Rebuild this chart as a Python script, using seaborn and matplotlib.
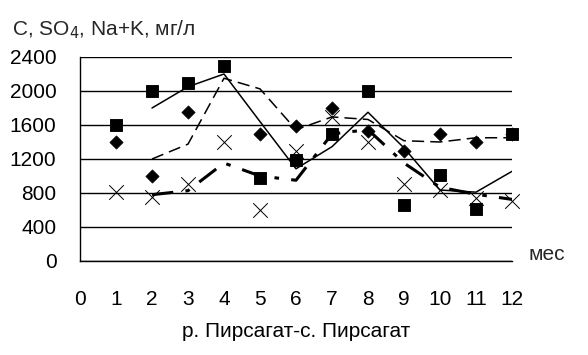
import seaborn as sns
import matplotlib.pyplot as plt
import pandas as pd

months = [1, 2, 3, 4, 5, 6, 7, 8, 9, 10, 11, 12]
# squares, diamonds, crosses (mg/l); diamond at month 4 lies above the axis
c_vals = [1600, 2000, 2100, 2300, 980, 1190, 1500, 2000, 660, 1010, 610, 1500]
so4_vals = [1400, 1000, 1750, 2550, 1500, 1590, 1800, 1530, 1300, 1500, 1400, 1500]
nak_vals = [810, 750, 905, 1400, 600, 1300, 1690, 1400, 905, 830, 740, 710]

df = pd.DataFrame({"mes": months, "c": c_vals, "so4": so4_vals, "nak": nak_vals})
# 2-period moving average trend lines
for col in ["c", "so4", "nak"]:
    df[col + "_ma"] = df[col].rolling(2).mean()

sns.set_theme(style="white")
plt.rcParams['font.family'] = ['Liberation Sans', 'DejaVu Sans']

fig = plt.figure(figsize=(5.88, 3.55), dpi=100)
ax = fig.add_axes([80 / 588, 1 - 261 / 355, 432 / 588, 204 / 355])

sns.lineplot(data=df, x="mes", y="c_ma", color="black", lw=1.1, ax=ax)
sns.lineplot(data=df, x="mes", y="so4_ma", color="black", lw=1.1, ax=ax).lines[-1].set_dashes([8, 4])
sns.lineplot(data=df, x="mes", y="nak_ma", color="black", lw=2.2, ax=ax).lines[-1].set_dashes([7, 4, 1.5, 4])

sns.scatterplot(data=df, x="mes", y="so4", marker="D", s=45, color="black",
                edgecolor="black", ax=ax, zorder=3)
sns.scatterplot(data=df, x="mes", y="nak", marker="x", s=110, color="black",
                linewidth=0.7, ax=ax, zorder=3, clip_on=False)
sns.scatterplot(data=df, x="mes", y="c", marker="s", s=65, color="black",
                edgecolor="black", ax=ax, zorder=4, clip_on=False)

ax.set_xlim(0, 12)
ax.set_ylim(0, 2400)
ax.set_xticks(range(0, 13))
ax.set_yticks(range(0, 2401, 400))
ax.yaxis.grid(True, color="black", lw=1)
ax.xaxis.grid(False)
for s in ["top", "right"]:
    ax.spines[s].set_visible(False)
for s in ["left", "bottom"]:
    ax.spines[s].set_color("black")
    ax.spines[s].set_linewidth(1)
ax.tick_params(axis="both", direction="out", length=7, width=1, color="black",
               labelsize=15, labelcolor="black")
ax.tick_params(axis="x", pad=14)
ax.tick_params(axis="y", pad=10)
ax.set_ylabel("")
ax.set_xlabel("р. Пирсагат-с. Пирсагат", fontsize=15, color="black", labelpad=9)
ax.text(1.08, 0.03, "мес", transform=ax.transAxes, fontsize=15, ha="center", va="center")
fig.text(12 / 588, 1 - 30 / 355, "C, SO$_4$, Na+K, мг/л", fontsize=15, va="center", ha="left")

fig.savefig("out.png", dpi=100)
